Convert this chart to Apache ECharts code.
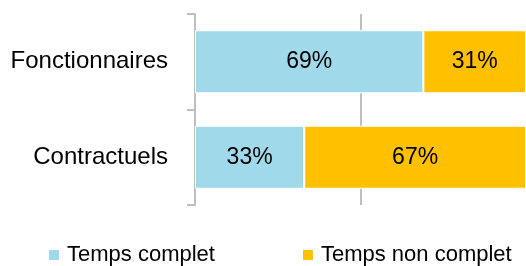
<!DOCTYPE html>
<html>
<head>
<meta charset="utf-8">
<script src="https://cdn.jsdelivr.net/npm/echarts@6/dist/echarts.min.js"></script>
<style>
  html, body { margin: 0; padding: 0; background: #fff; }
  #main { width: 526px; height: 266px; }
</style>
</head>
<body>
<div id="main"></div>
<script>
// categories (top to bottom)
var categories = ["Fonctionnaires", "Contractuels"];
// share of each status, in %
var tempsComplet = [69, 33];
var tempsNonComplet = [31, 67];
var seriesNames = ["Temps complet", "Temps non complet"];

var myChart = echarts.init(document.getElementById("main"));
var fontFamily = "'Liberation Sans', Arial, sans-serif";

function makeSeries(name, values, color) {
  return {
    name: name,
    type: "bar",
    stack: "total",
    barWidth: 63,
    data: values,
    itemStyle: { color: color, borderColor: "#fff", borderWidth: 1 },
    label: {
      show: true,
      position: "inside",
      formatter: "{c}%",
      color: "#000",
      fontSize: 23,
      fontFamily: fontFamily,
    },
  };
}

var option = {
  animation: false,
  grid: { left: 195, right: 0, top: 14, bottom: 61 },
  legend: {
    data: seriesNames,
    left: 42,
    top: 239,
    itemWidth: 12,
    itemHeight: 12,
    itemGap: 86,
    icon: "rect",
    textStyle: { color: "#000", fontSize: 22, fontFamily: fontFamily, padding: [0, 0, 0, 2] },
  },
  xAxis: {
    type: "value",
    min: 0,
    max: 100,
    interval: 50,
    axisLine: { show: false },
    axisTick: { show: false },
    axisLabel: { show: false },
    // no grid line at the 100% edge
    splitLine: {
      show: true,
      lineStyle: { color: ["#bfbfbf", "#bfbfbf", "rgba(0,0,0,0)"], width: 2 },
    },
  },
  yAxis: {
    type: "category",
    inverse: true,
    data: categories,
    axisLine: { show: true, lineStyle: { color: "#bfbfbf", width: 2 } },
    axisTick: { show: true, length: 8, lineStyle: { color: "#bfbfbf", width: 2 } },
    axisLabel: { color: "#000", fontSize: 24, fontFamily: fontFamily, margin: 27 },
  },
  series: [
    makeSeries(seriesNames[0], tempsComplet, "#9fd9ea"),
    makeSeries(seriesNames[1], tempsNonComplet, "#ffc000"),
  ],
};
option && myChart.setOption(option);
</script>
</body>
</html>
